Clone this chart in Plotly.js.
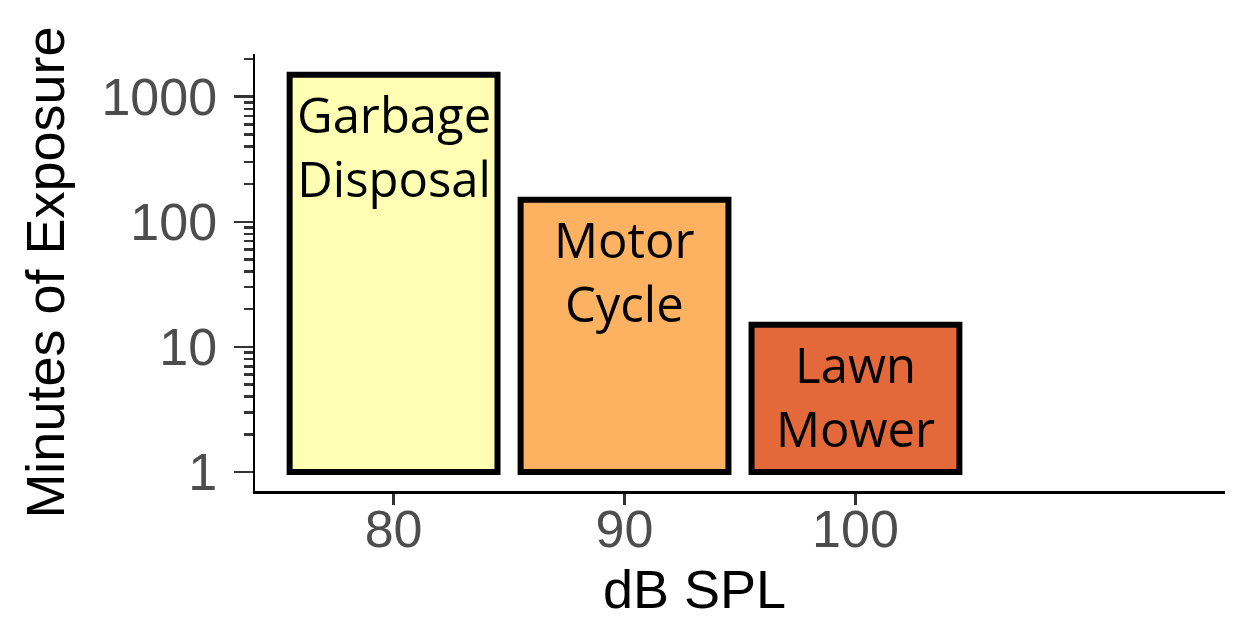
<!DOCTYPE html>
<html>
<head>
<meta charset="utf-8">
<script src="https://cdn.plot.ly/plotly-3.0.1.min.js"></script>
<style>html,body{margin:0;padding:0;background:#fff;}#chart{width:1250px;height:625px;}</style>
</head>
<body>
<div id="chart"></div>
<script>
// Data
const dBSPL = [80, 90, 100];
const minutesOfExposure = [1500, 150, 15];
const sourceLabels = ["Garbage<br>Disposal", "Motor<br>Cycle", "Lawn<br>Mower"];
const barColors = ["#FFFFB3", "#FDB262", "#E3683A"];
const yTickVals = [1, 10, 100, 1000];
const yTickText = ["1", "10", "100", "1000"];
const xTickVals = [80, 90, 100];
const xTickText = ["80", "90", "100"];

const baseValue = 1;
const yRange = [-0.152, 3.341];
const xRange = [74, 116];

// minor log ticks: 2..9 within each decade, inside the visible range
const minorVals = [];
yTickVals.forEach(d => {
  for (let m = 2; m <= 9; m++) {
    const v = d * m;
    if (Math.log10(v) <= yRange[1]) minorVals.push(v);
  }
});

const trace = {
  type: "bar",
  x: dBSPL,
  y: minutesOfExposure.map(v => v - baseValue),
  base: minutesOfExposure.map(() => baseValue),
  width: 9,
  marker: {color: barColors, line: {color: "#000000", width: 6}},
  hoverinfo: "skip",
  showlegend: false
};

// invisible helper trace so the label axis exists
const labelAxisTrace = {
  type: "scatter", x: [xRange[0]], y: [1], xaxis: "x2", yaxis: "y",
  mode: "markers", marker: {opacity: 0}, hoverinfo: "skip", showlegend: false
};

const annotations = dBSPL.map((x, i) => ({
  x: x, y: Math.log10(minutesOfExposure[i]),
  xref: "x", yref: "y",
  text: sourceLabels[i],
  showarrow: false,
  xanchor: "center", yanchor: "top",
  yshift: -4,
  font: {family: "Open Sans, Noto Sans, sans-serif", size: 49, color: "#000000"}
}));

annotations.push({
  xref: "paper", yref: "paper",
  x: (694 - 255) / 970, y: 0,
  xanchor: "center", yanchor: "top",
  yshift: -66,
  showarrow: false,
  text: "dB SPL",
  font: {family: "Liberation Sans, Arial, sans-serif", size: 54, color: "#000000"}
});

const layout = {
  width: 1250, height: 625,
  paper_bgcolor: "#ffffff", plot_bgcolor: "#ffffff",
  margin: {l: 255, r: 25, t: 54, b: 134, pad: 0},
  font: {family: "Liberation Sans, Arial, sans-serif"},
  xaxis: {
    range: xRange,
    tickmode: "array", tickvals: xTickVals,
    ticks: "outside", ticklen: 11, tickwidth: 2.5, tickcolor: "#333333",
    showticklabels: false,
    showline: true, linecolor: "#000000", linewidth: 2.5,
    showgrid: false, zeroline: false
  },
  xaxis2: {
    overlaying: "x", anchor: "y", side: "bottom",
    range: xRange,
    tickmode: "array", tickvals: xTickVals, ticktext: xTickText,
    ticks: "", ticklen: 0,
    ticklabelstandoff: 3,
    tickfont: {size: 52, color: "#4D4D4D"},
    showline: false, showgrid: false, zeroline: false
  },
  yaxis: {
    type: "log",
    range: yRange,
    tickmode: "array", tickvals: yTickVals, ticktext: yTickText,
    ticks: "outside", ticklen: 19, tickwidth: 2.5, tickcolor: "#333333",
    tickfont: {size: 52, color: "#4D4D4D"},
    ticklabelstandoff: 6,
    minor: {tickmode: "array", tickvals: minorVals, ticks: "outside", ticklen: 9, tickwidth: 2.5, tickcolor: "#333333", showgrid: false},
    showline: true, linecolor: "#000000", linewidth: 2.5,
    showgrid: false, zeroline: false,
    title: {text: "Minutes of Exposure", font: {size: 54, color: "#000000"}, standoff: 20}
  },
  annotations: annotations
};

Plotly.newPlot("chart", [trace, labelAxisTrace], layout, {displayModeBar: false, staticPlot: true});
</script>
</body>
</html>
